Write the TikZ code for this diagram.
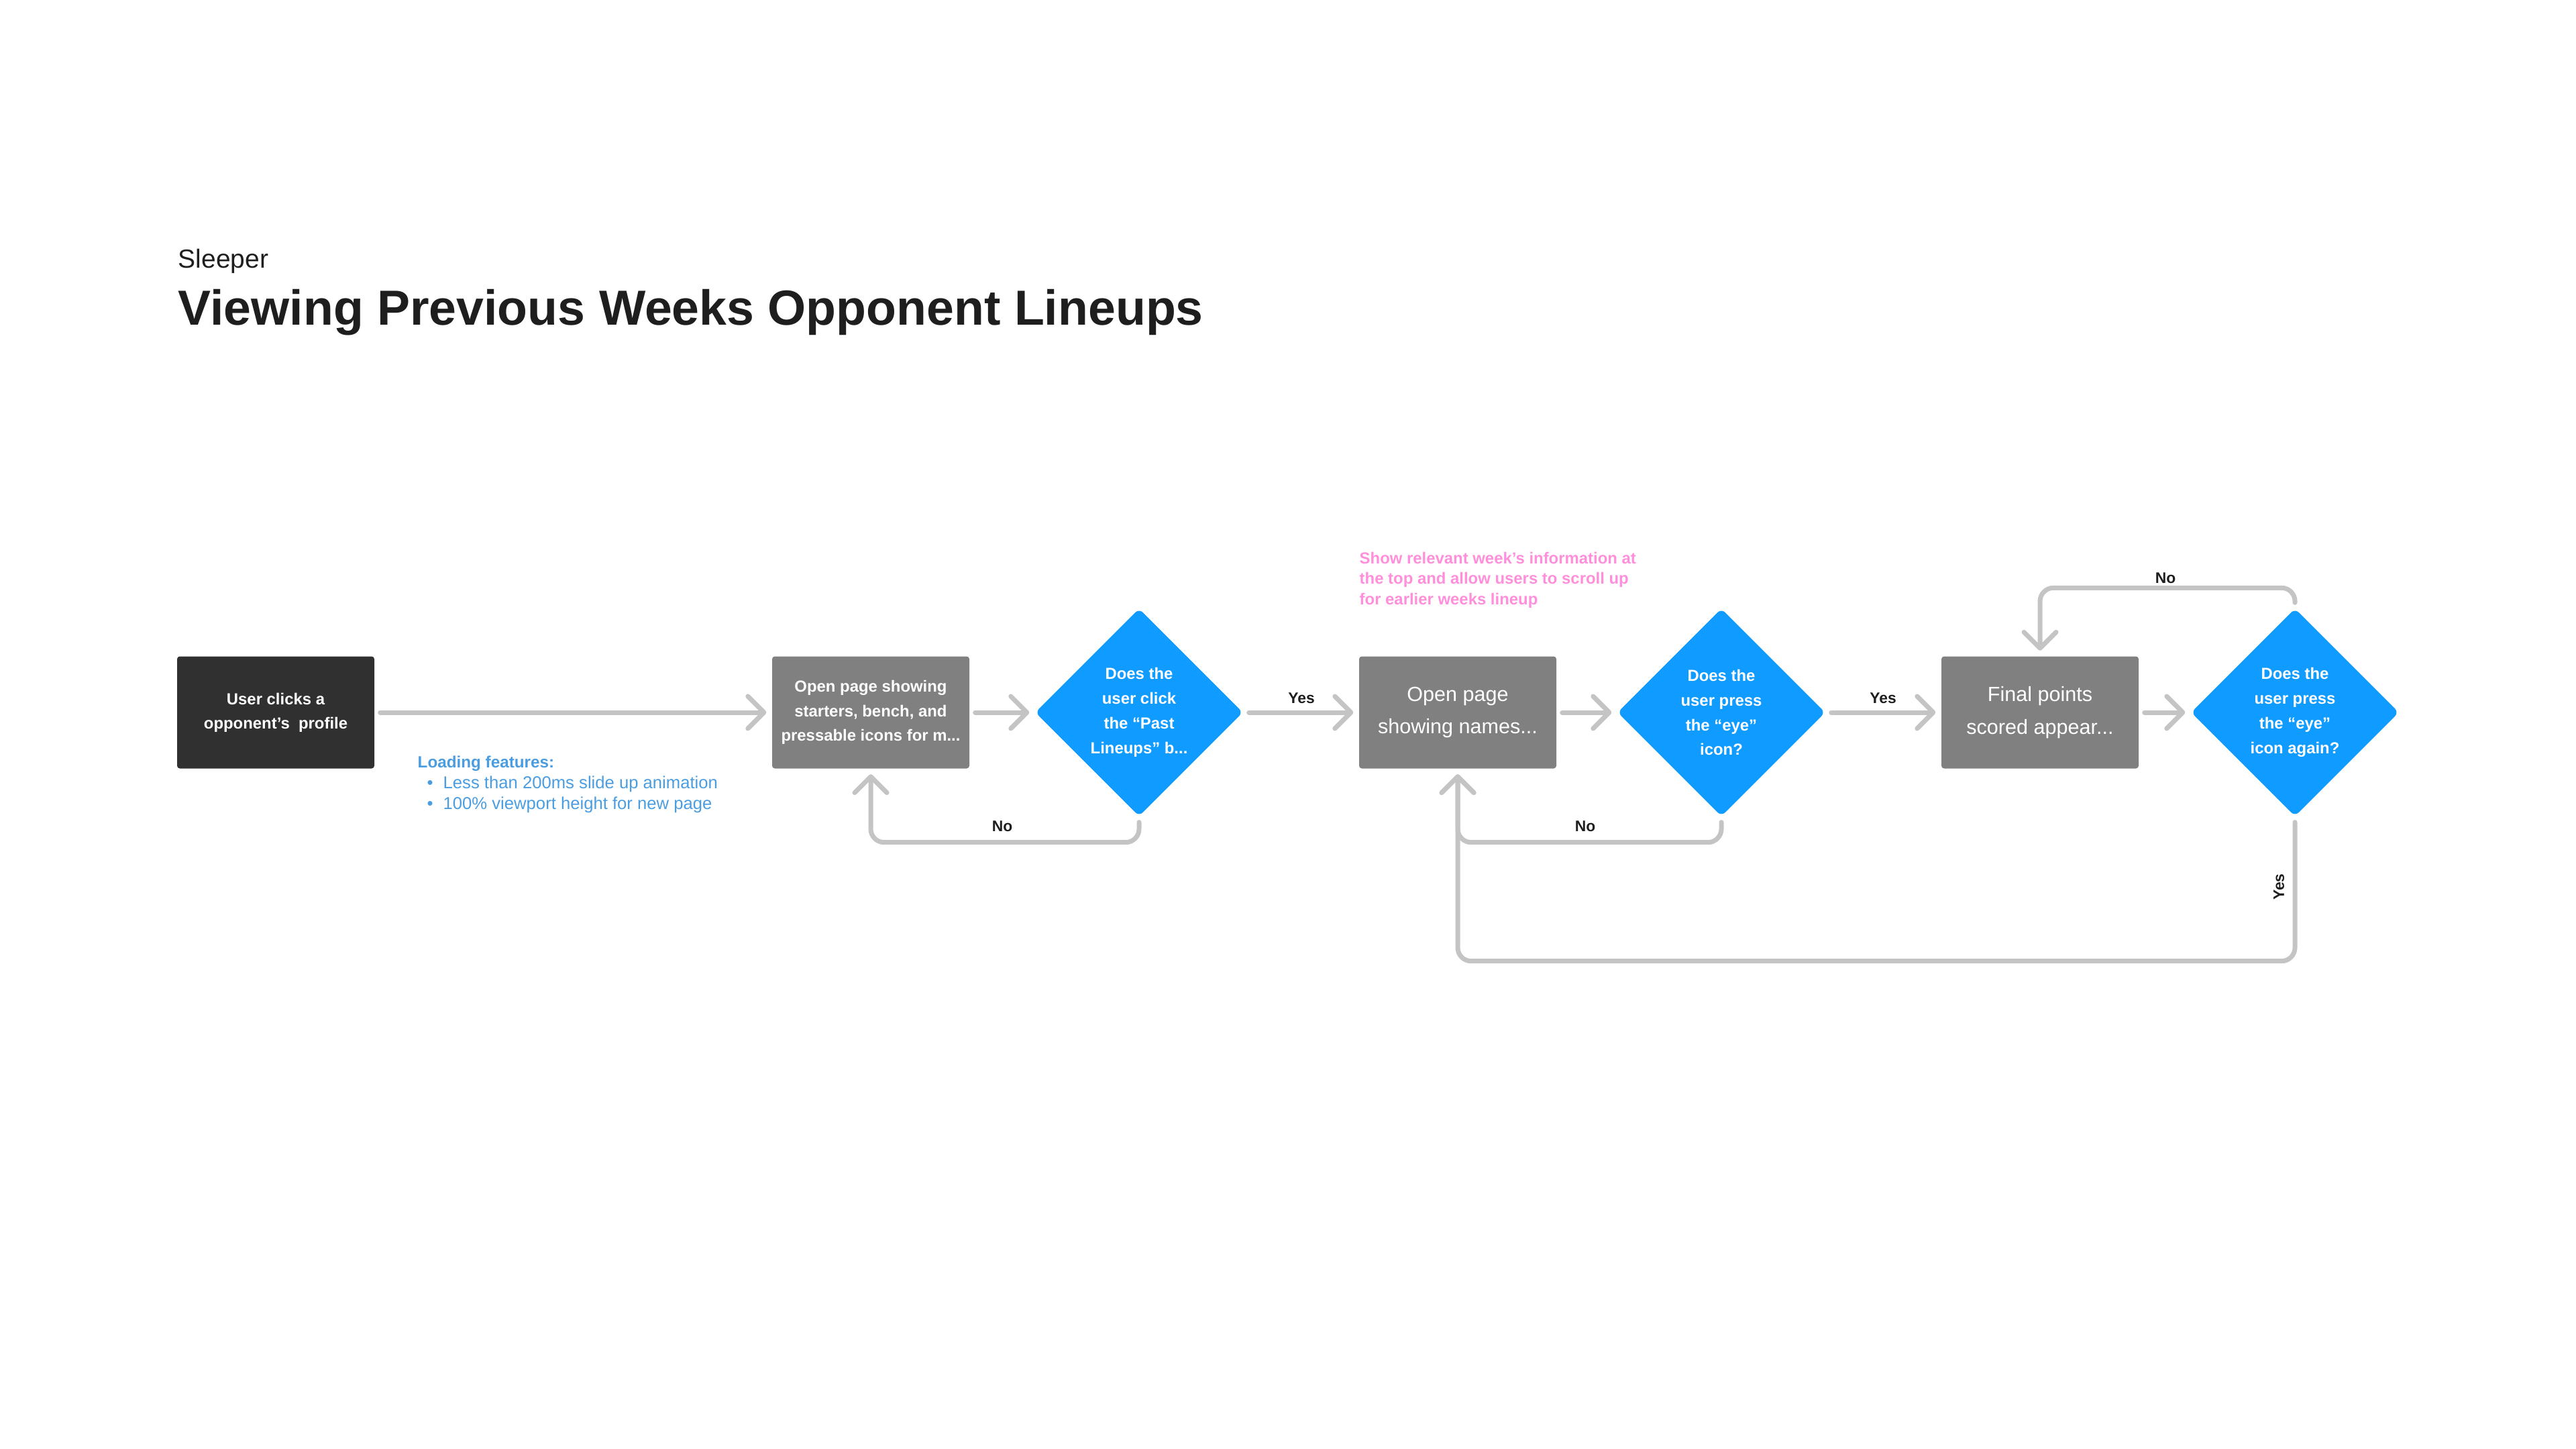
\documentclass[tikz,border=0pt]{standalone}
\usepackage{fontspec}
\setmainfont{Liberation Sans}
\usepackage{tikz}
\usetikzlibrary{arrows.meta, shapes.geometric}
\definecolor{ink}{HTML}{1E1E1E}
\definecolor{startgray}{HTML}{303030}
\definecolor{stepgray}{HTML}{808080}
\definecolor{askblue}{HTML}{0F9BFF}
\definecolor{linkgray}{HTML}{C4C4C4}
\definecolor{noteblue}{HTML}{4A9DE0}
\definecolor{notepink}{HTML}{FF8FDB}

\begin{document}
\begin{tikzpicture}[every node/.style={inner sep=0, font=\fontsize{6.8}{10.2}\selectfont}]
\tikzset{
  startbox/.style={rectangle, rounded corners=0.4mm, fill=startgray, text=white, minimum width=2.94cm, minimum height=1.67cm, align=center, font=\bfseries\fontsize{6.8}{10.3}\selectfont, execute at begin node={\rule{0pt}{1.1em}}},
  stepbox/.style={startbox, fill=stepgray},
  bigstep/.style={stepbox, font=\fontsize{8.7}{13.8}\selectfont},
  ask/.style={diamond, aspect=1, fill=askblue, text=white, minimum size=3.1cm, align=center, rounded corners=0.8mm, font=\bfseries\fontsize{6.8}{10.5}\selectfont, execute at begin node={\rule{0pt}{1.05em}}},
  flow/.style={draw=linkgray, line width=0.7mm, line cap=round, rounded corners=2mm, shorten <=0.8mm, shorten >=0.8mm, -{Straight Barb[length=2.4mm, width=4.8mm, round]}},
  lbl/.style={text=ink, font=\bfseries\fontsize{6.5}{8}\selectfont}
}
\useasboundingbox (0,0) rectangle (38.4,-21.6);
% --- heading ---
\node[anchor=base west, text=ink, font=\fontsize{11.1}{13}\selectfont] (brand) at (2.65,-4.00) {Sleeper};
\node[anchor=base west, text=ink, font=\bfseries\fontsize{20.9}{25}\selectfont] (title) at (2.65,-4.85) {Viewing Previous Weeks Opponent Lineups};
% --- main row ---
\node[startbox] (b1) at (4.11,-10.62) {User clicks a\\opponent’s\ \ profile};
\node[stepbox] (b2) at (12.98,-10.62) {Open page showing\\starters, bench, and\\pressable icons for m...};
\node[ask] (d1) at (16.98,-10.62) {Does the\\user click\\the “Past\\Lineups” b...};
\node[bigstep] (b3) at (21.73,-10.62) {Open page\\showing names...};
\node[ask] (d2) at (25.66,-10.62) {Does the\\user press\\the “eye”\\icon?};
\node[bigstep] (b4) at (30.41,-10.62) {Final points\\scored appear...};
\node[ask] (d3) at (34.21,-10.62) {Does the\\user press\\the “eye”\\icon again?};
% --- notes ---
\node[anchor=north west, text=noteblue, align=left, font=\fontsize{7.3}{8.9}\selectfont] (load) at (6.22,-11.26) {\textbf{\fontsize{6.9}{8.9}\selectfont Loading features:}\\\hspace{1.4mm}•\hspace{1.5mm}Less than 200ms slide up animation\\\hspace{1.4mm}•\hspace{1.5mm}100\% viewport height for new page};
\node[anchor=north west, text=notepink, align=left, font=\bfseries\fontsize{6.8}{8.7}\selectfont] (hint) at (20.26,-8.22) {Show relevant week’s information at\\the top and allow users to scroll up\\for earlier weeks lineup};
% --- connectors ---
\draw[flow] (b1) -- (b2);
\draw[flow] (b2) -- (d1);
\draw[flow] (d1) -- (b3);
\draw[flow] (b3) -- (d2);
\draw[flow] (d2) -- (b4);
\draw[flow] (b4) -- (d3);
\draw[flow] (d1.south) -- ++(0,-0.38) -| (b2.south);
\draw[flow] (d2.south) -- ++(0,-0.38) -| (b3.south);
\draw[flow] (d3.north) -- ++(0,0.30) -| (b4.north);
\draw[flow] (d3.south) -- ++(0,-2.15) -| (b3.south);
% --- labels ---
\node[lbl] (yes1) at (19.40,-10.41) {Yes};
\node[lbl] (yes2) at (28.07,-10.41) {Yes};
\node[lbl] (no1) at (14.94,-12.32) {No};
\node[lbl] (no2) at (23.63,-12.32) {No};
\node[lbl] (no3) at (32.28,-8.62) {No};
\node[lbl, rotate=90] (yes3) at (33.97,-13.22) {Yes};
\end{tikzpicture}
\end{document}
